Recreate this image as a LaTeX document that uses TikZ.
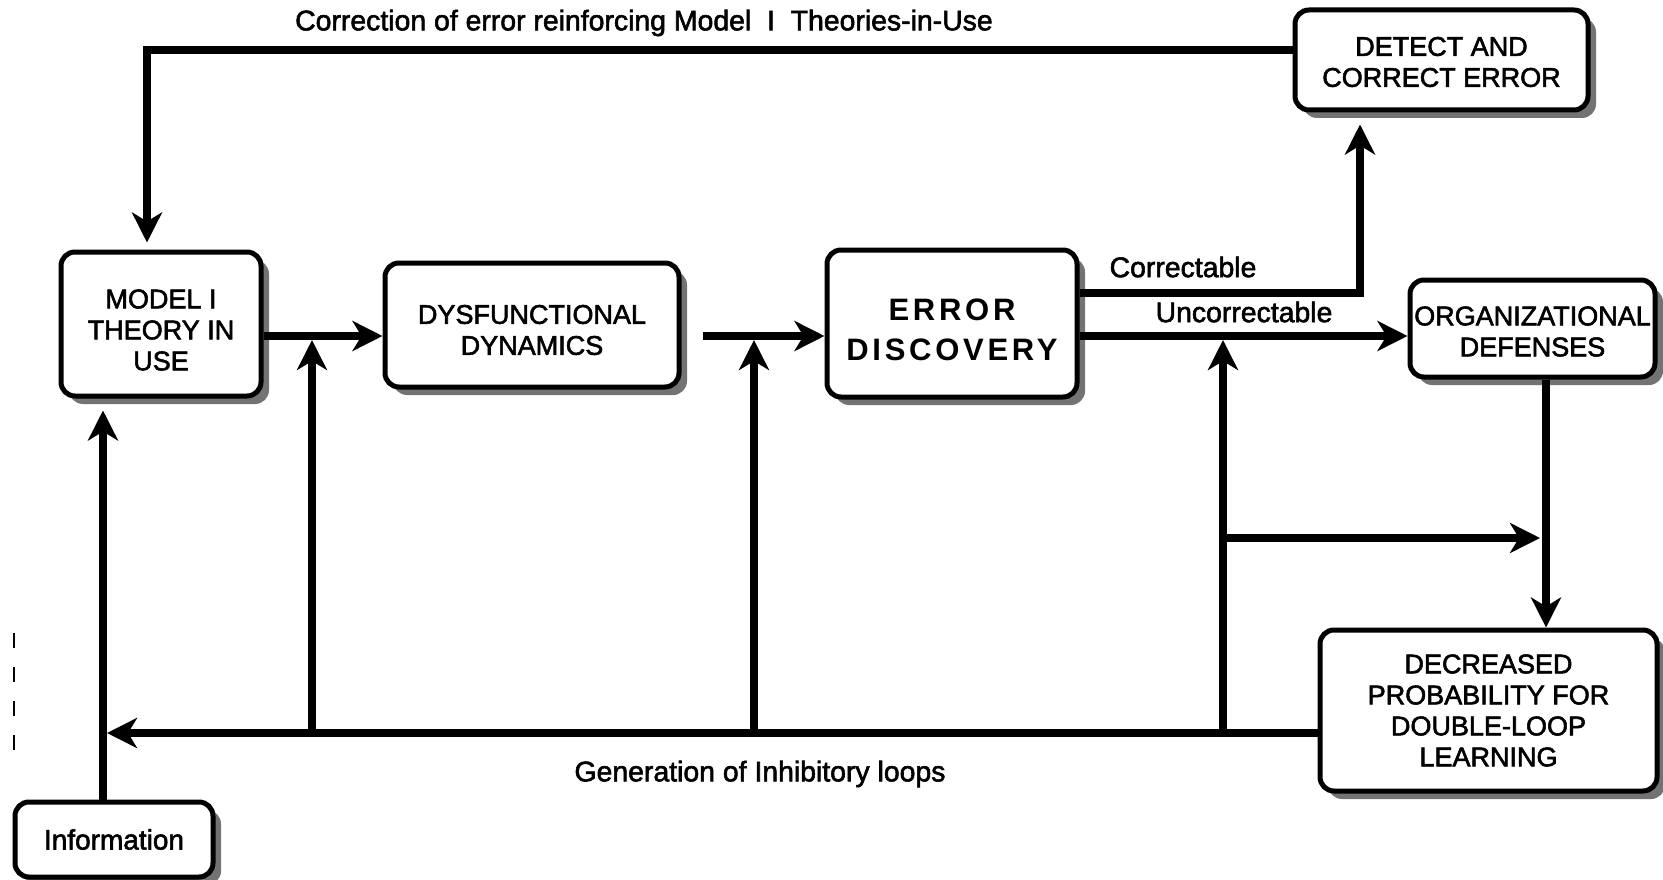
\documentclass[tikz,border=0pt]{standalone}
\usepackage{fontspec}
\setmainfont{Liberation Sans}[FakeBold=2]
\newfontfamily\spacedsans[LetterSpace=12]{Liberation Sans}
\usetikzlibrary{arrows.meta,shadows}
\begin{document}
\begin{tikzpicture}[x=1pt,y=-1pt,
  box/.style={draw, line width=5pt, rounded corners=14pt, fill=white, inner sep=0pt,
    drop shadow={shadow xshift=8pt, shadow yshift=-8pt, fill=black!55, opacity=1}},
  txt/.style={align=center, inner sep=0pt, font=\fontsize{27}{31}\selectfont},
  link/.style={line width=7.5pt},
  arr/.style={link, -{Stealth[length=30pt,width=30pt,inset=9pt]}},
  lbl/.style={font=\fontsize{28.4}{32}\selectfont, inner sep=0pt}]
\useasboundingbox (0,0) rectangle (1663,880);

% box frames
\node[box, minimum width=200pt, minimum height=144pt] (model) at (161,324) {};
\node[box, minimum width=294pt, minimum height=124pt] (dys) at (532,325) {};
\node[box, minimum width=250pt, minimum height=147pt] (err) at (952,323.5) {};
\node[box, minimum width=293pt, minimum height=100pt] (detect) at (1441.5,60) {};
\node[box, minimum width=245pt, minimum height=97pt] (org) at (1532.5,328.5) {};
\node[box, minimum width=337pt, minimum height=161pt] (dec) at (1488.5,710.5) {};
\node[box, minimum width=198pt, minimum height=75pt] (info) at (114,839.5) {};

% box texts
\node[txt] (modelT) at ([yshift=-6pt]model.center) {MODEL I\\THEORY IN\\USE};
\node[txt] (dysT) at ([yshift=-5pt]dys.center) {DYSFUNCTIONAL\\DYNAMICS};
\node[txt, font={\spacedsans\bfseries\fontsize{31}{40}\selectfont}] (errT) at ([yshift=-6pt]err.center) {ERROR\\DISCOVERY};
\node[txt] (detectT) at ([yshift=-2pt]detect.center) {DETECT AND\\CORRECT ERROR};
\node[txt] (orgT) at ([yshift=-3pt]org.center) {ORGANIZATIONAL\\DEFENSES};
\node[txt] (decT) at (dec.center) {DECREASED\\PROBABILITY FOR\\DOUBLE-LOOP\\LEARNING};
\node[txt, font=\fontsize{28}{32}\selectfont] (infoT) at (info.center) {Information};

% reference rows and columns
\coordinate (mid) at (0,336);
\coordinate (base) at (0,733);
\coordinate (tl) at (147,50);
\coordinate (dstart) at (703,336);
\coordinate (cx) at (1360,293);
\coordinate (vx) at (1546,0);
\coordinate (infx) at (103,0);
\coordinate (upa) at (312,0);
\coordinate (upb) at (754,0);
\coordinate (upc) at (1223,0);
\coordinate (hb) at (1223,538);

% connectors
\draw[arr] ([yshift=10pt]detect.west) -- (tl) -- ([yshift=7pt]tl |- model.north);
\draw[arr] (model.east |- mid) -- (dys.west |- mid);
\draw[arr] (dstart) -- (err.west |- dstart);
\draw[arr] (err.east |- cx) -- (cx) -- ([yshift=-12pt]cx |- detect.south);
\draw[arr] (err.east |- mid) -- (org.west |- mid);
\draw[arr] (vx |- org.south) -- (vx |- dec.north);
\draw[arr] (dec.west |- base) -- ([xshift=4pt]infx |- base);
\draw[arr] (infx |- info.north) -- ([yshift=-12pt]infx |- model.south);
\draw[arr] (upa |- base) -- ([yshift=-4pt]upa |- mid);
\draw[arr] (upb |- base) -- ([yshift=-4pt]upb |- mid);
\draw[arr] (upc |- base) -- ([yshift=-4pt]upc |- mid);
\draw[arr] (hb) -- ([xshift=-6pt]vx |- hb);

% labels
\node[lbl] (ltop) at (644,23) {Correction of error reinforcing Model\ \ I\ \ Theories-in-Use};
\node[lbl] (lcor) at (1183,267) {Correctable};
\node[lbl] (lunc) at (1244,312) {Uncorrectable};
\node[lbl] (lgen) at (760,774) {Generation of Inhibitory loops};

% dashed mark at the left margin
\draw[line width=2pt, dash pattern=on 15pt off 19pt] (14,633) -- (14,753);
\end{tikzpicture}
\end{document}
